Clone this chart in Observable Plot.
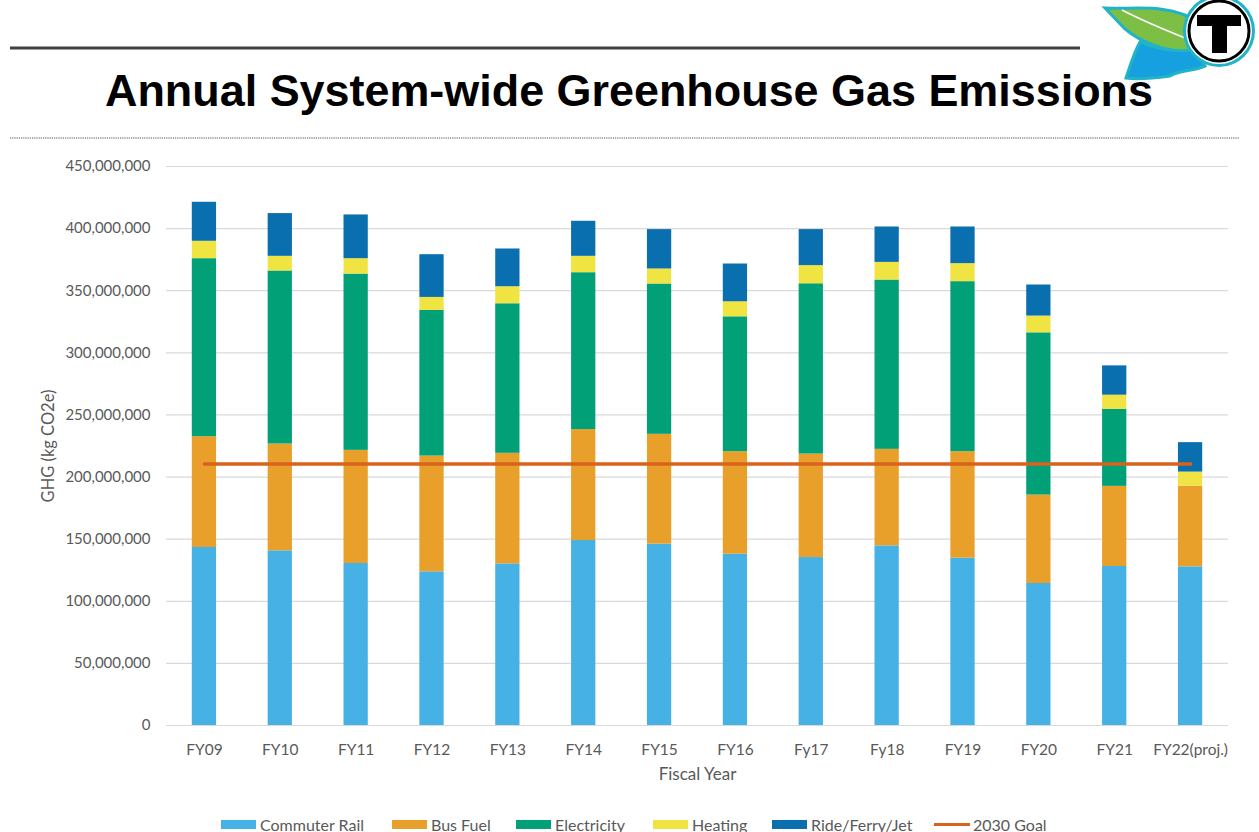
<!DOCTYPE html>
<html>
<head>
<meta charset="utf-8">
<script src="https://cdn.jsdelivr.net/npm/d3@7"></script>
<script src="https://cdn.jsdelivr.net/npm/@observablehq/plot@0.6"></script>
<style>
  html, body { margin: 0; padding: 0; background: #fff; }
  body { width: 1259px; height: 832px; position: relative; overflow: hidden; font-family: Lato, "Open Sans", sans-serif; }
  #header { position: absolute; left: 0; top: 0; }
  #chart { position: absolute; left: 0; top: 150px; }
  #legend { position: absolute; left: 0; top: 815px; width: 1259px; height: 18px; font-size: 16px; color: #595959; }
  .item { position: absolute; top: 0; height: 18px; display: flex; align-items: center; white-space: nowrap; }
  .sw { display: inline-block; width: 35px; height: 9px; margin-right: 4px; }
  .ln { display: inline-block; width: 36px; height: 3px; margin-right: 3px; }
</style>
</head>
<body>
<svg id="header" width="1259" height="150">
  <line x1="10" y1="48" x2="1080" y2="48" stroke="#404040" stroke-width="3"/>
  <line x1="10" y1="138" x2="1239" y2="138" stroke="#8a8a8a" stroke-width="1.5" stroke-dasharray="1.2,1"/>
  <!-- logo -->
  <path d="M1105,8 C1135,10 1165,2 1200,22 L1190,52 C1165,52 1140,42 1124,28 Z" fill="#7dbe45" stroke="#21b3c6" stroke-width="3"/>
  <path d="M1122,10 C1145,22 1165,30 1190,40" fill="none" stroke="#ffffff" stroke-width="1.5"/>
  <path d="M1140,42 C1160,50 1180,52 1196,50 L1205,66 C1190,72 1180,70 1170,76 C1155,78 1140,80 1126,78 C1130,66 1134,52 1140,42 Z" fill="#16a0e0" stroke="#21b3c6" stroke-width="3"/>
  <circle cx="1219" cy="31" r="36" fill="#21b3c6"/>
  <circle cx="1219" cy="31" r="33" fill="#ffffff"/>
  <circle cx="1219" cy="31" r="30" fill="none" stroke="#000" stroke-width="3"/>
  <rect x="1197" y="15" width="44" height="11" fill="#000"/>
  <rect x="1212" y="15" width="15" height="38" fill="#000"/>
  <text x="105" y="106" font-family="'Liberation Sans', Arial, sans-serif" font-weight="bold" font-size="45" fill="#000" textLength="1048" lengthAdjust="spacingAndGlyphs">Annual System-wide Greenhouse Gas Emissions</text>
</svg>
<div id="chart"></div>
<div id="legend"></div>
<script>
// Data (values in millions of kg CO2e)
const years = ["FY09","FY10","FY11","FY12","FY13","FY14","FY15","FY16","Fy17","Fy18","FY19","FY20","FY21","FY22(proj.)"];
const seriesNames = ["Commuter Rail","Bus Fuel","Electricity","Heating","Ride/Ferry/Jet"];
const commuterRail = [143.3,140.6,130.4,123.7,130.1,148.9,146.0,137.9,135.2,144.6,134.7,114.3,128.0,127.7];
const busFuel      = [89.2,86.0,91.1,93.2,89.0,89.3,88.4,82.5,83.3,77.7,85.7,71.2,64.5,65.0];
const electricity  = [143.3,139.3,141.9,117.2,120.4,126.3,121.0,108.6,137.1,136.3,136.9,130.6,62.1,0];
const heating      = [14.0,11.8,12.4,10.5,13.7,13.2,12.1,12.1,14.6,14.2,14.5,13.5,11.3,11.3];
const rideFerryJet = [31.4,34.4,35.2,34.4,30.4,28.2,31.7,30.4,29.0,28.5,29.5,25.0,23.6,23.7];
const goal2030 = 210.5;
const goalName = "2030 Goal";
const yTicks = [0,50,100,150,200,250,300,350,400,450];
const xLabel = "Fiscal Year";
const yLabel = "GHG (kg CO2e)";
const seriesColors = ["#45b1e5","#e8a02b","#02a077","#f0e442","#0a6fae"];
const goalColor = "#d9621c";

const seriesValues = [commuterRail, busFuel, electricity, heating, rideFerryJet];
const table = [];
seriesNames.forEach((s, si) => {
  years.forEach((y, yi) => table.push({year: y, series: s, value: seriesValues[si][yi] * 1e6}));
});

const chart = Plot.plot({
  width: 1259,
  height: 640,
  marginLeft: 166,
  marginRight: 31,
  marginTop: 16,
  marginBottom: 65,
  style: {fontFamily: "Lato, 'Open Sans', sans-serif", color: "#595959", background: "transparent"},
  x: {domain: years, paddingInner: 0.68, paddingOuter: 0.34, round: false},
  y: {domain: [0, 450e6]},
  color: {domain: seriesNames, range: seriesColors},
  marks: [
    Plot.gridY(yTicks.map(d => d * 1e6), {stroke: "#d9d9d9", strokeOpacity: 1, strokeWidth: 1.2}),
    Plot.barY(table, {x: "year", y: "value", fill: "series", order: seriesNames}),
    Plot.lineY(years, {x: d => d, y: () => goal2030 * 1e6, stroke: goalColor, strokeWidth: 3.5}),
    Plot.axisY(yTicks.map(d => d * 1e6), {tickSize: 0, tickPadding: 16, tickFormat: d3.format(","), fontSize: 15, fill: "#595959", label: null}),
    Plot.axisX({tickSize: 0, tickPadding: 18, fontSize: 15.5, fill: "#595959", label: null}),
    Plot.text([xLabel], {frameAnchor: "bottom", dy: 54, fontSize: 17, fill: "#595959"}),
    Plot.text([yLabel], {frameAnchor: "left", textAnchor: "middle", dx: -118, rotate: -90, fontSize: 16.5, fill: "#595959"})
  ]
});
document.getElementById("chart").appendChild(chart);

// Legend
const legend = document.getElementById("legend");
const lefts = [221, 392, 516, 653, 772];
seriesNames.forEach((s, i) => {
  const it = document.createElement("div");
  it.className = "item";
  it.style.left = lefts[i] + "px";
  it.innerHTML = `<span class="sw" style="background:${seriesColors[i]}"></span><span>${s}</span>`;
  legend.appendChild(it);
});
const gi = document.createElement("div");
gi.className = "item";
gi.style.left = "934px";
gi.innerHTML = `<span class="ln" style="background:${goalColor}"></span><span>${goalName}</span>`;
legend.appendChild(gi);
</script>
</body>
</html>
